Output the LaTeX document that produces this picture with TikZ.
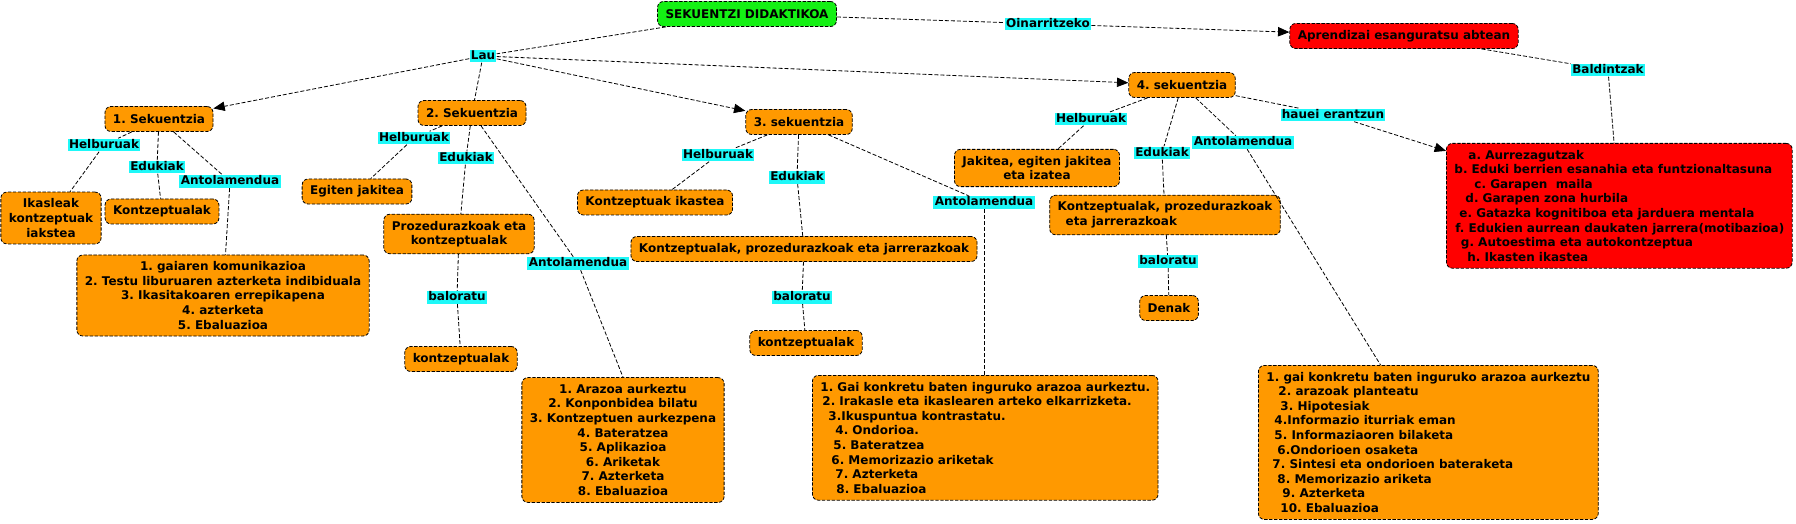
\documentclass[tikz,border=0pt]{standalone}
\usepackage{fontspec}
\setmainfont{DejaVu Sans}
\usetikzlibrary{arrows.meta}
\definecolor{orangeC}{RGB}{255,153,0}
\definecolor{cyanC}{RGB}{30,248,248}
\definecolor{greenC}{RGB}{20,240,20}
\definecolor{redC}{RGB}{255,0,0}
\newcommand\myfont{\bfseries\frenchspacing\fontsize{9pt}{10.95pt}\selectfont}
\newcommand\ind[1]{\hspace*{\dimexpr #1pt*3/4\relax}}
\tikzset{
  base/.style={font=\myfont, text=black},
  concept/.style={base, draw=black, dash pattern=on 2.5pt off 1.2pt, line width=0.6pt,
    rounded corners=4.5pt, fill=orangeC, inner xsep=6pt, inner ysep=5pt, align=center},
  single/.style={minimum height=18.75pt},
  lab/.style={base, fill=cyanC, inner xsep=1pt, inner ysep=0.6pt, text height=6.6pt, text depth=1.9pt},
  link/.style={draw=black, dash pattern=on 3pt off 1.5pt, line width=0.6pt},
  arr/.style={link, -{Triangle[length=8.5pt,width=7pt]}},
}
\begin{document}
\begin{tikzpicture}[x=0.75pt,y=-0.75pt]
\path[use as bounding box, fill=white] (0,0) rectangle (1796,524);

% top
\node[concept,single,fill=greenC] (sekdid) at (747,14) {SEKUENTZI DIDAKTIKOA};
\node[lab] (oin) at (1048,24) {Oinarritzeko};
\node[concept,single,fill=redC] (apr) at (1404,36) {Aprendizai esanguratsu abtean};
\node[lab] (lau) at (483,56) {Lau};
\node[lab] (bald) at (1608,70) {Baldintzak};
\node[concept,fill=redC,align=left,anchor=north west] (red) at (1446,143) {%
\ind{14}a. Aurrezagutzak\\
b. Eduki berrien esanahia eta funtzionaltasuna\\
\ind{20}c. Garapen\ \ maila\\
\ind{11}d. Garapen zona hurbila\\
\ind{5}e. Gatazka kognitiboa eta jarduera mentala\\
\ind{1}f. Edukien aurrean daukaten jarrera(motibazioa)\\
\ind{6.5}g. Autoestima eta autokontzeptua\\
\ind{13}h. Ikasten ikastea};

% sequences
\node[concept,single] (sek1) at (159,119) {1. Sekuentzia};
\node[concept,single] (sek2) at (472,113) {2. Sekuentzia};
\node[concept,single] (sek3) at (799,122) {3. sekuentzia};
\node[concept,single] (sek4) at (1182,85) {4. sekuentzia};
\node[lab] (hauei) at (1333,115) {hauei erantzun};

% sequence 1
\node[lab] (helb1) at (104,145) {Helburuak};
\node[lab] (eduk1) at (157,167) {Edukiak};
\node[lab] (antol1) at (230,181.5) {Antolamendua};
\node[concept] (ikas) at (51,218) {Ikasleak\\kontzeptuak\\iakstea};
\node[concept,single] (kontz1) at (162,211.5) {Kontzeptualak};
\node[concept] (list1) at (223,295.5) {1. gaiaren komunikazioa\\2. Testu liburuaren azterketa indibiduala\\3. Ikasitakoaren errepikapena\\4. azterketa\\5. Ebaluazioa};

% sequence 2
\node[lab] (helb2) at (414,138) {Helburuak};
\node[lab] (eduk2) at (466,158) {Edukiak};
\node[concept,single] (egiten) at (357,191.5) {Egiten jakitea};
\node[concept] (proz) at (459,234) {Prozedurazkoak eta\\kontzeptualak};
\node[lab] (balor2) at (457,297.5) {baloratu};
\node[concept,single] (kontz2) at (461,359) {kontzeptualak};
\node[lab] (antol2) at (578,263.5) {Antolamendua};
\node[concept] (list2) at (623,440) {1. Arazoa aurkeztu\\2. Konponbidea bilatu\\3. Kontzeptuen aurkezpena\\4. Bateratzea\\5. Aplikazioa\\6. Ariketak\\7. Azterketa\\8. Ebaluazioa};

% sequence 3
\node[lab] (helb3) at (718,155) {Helburuak};
\node[lab] (eduk3) at (797,177.5) {Edukiak};
\node[lab] (antol3) at (984,202.5) {Antolamendua};
\node[concept,single] (kikas) at (655,202.5) {Kontzeptuak ikastea};
\node[concept,single] (kpj3) at (804,249) {Kontzeptualak, prozedurazkoak eta jarrerazkoak};
\node[lab] (balor3) at (802,297.5) {baloratu};
\node[concept,single] (kontz3) at (806,343) {kontzeptualak};
\node[concept,align=left,anchor=north west] (list3) at (812,375) {%
1. Gai konkretu baten inguruko arazoa aurkeztu.\\
\ind{2}2. Irakasle eta ikaslearen arteko elkarrizketa.\\
\ind{8}3.Ikuspuntua kontrastatu.\\
\ind{15}4. Ondorioa.\\
\ind{13}5. Bateratzea\\
\ind{11}6. Memorizazio ariketak\\
\ind{15}7. Azterketa\\
\ind{16}8. Ebaluazioa};

% sequence 4
\node[lab] (helb4) at (1091,119) {Helburuak};
\node[lab] (eduk4) at (1162,153) {Edukiak};
\node[lab] (antol4) at (1243,142.5) {Antolamendua};
\node[concept] (jak) at (1037,168) {Jakitea, egiten jakitea\\eta izatea};
\node[concept,align=left] (kpj4) at (1165,215) {Kontzeptualak, prozedurazkoak\\\ind{8}eta jarrerazkoak};
\node[lab] (balor4) at (1168,261.5) {baloratu};
\node[concept,single] (denak) at (1169,308) {Denak};
\node[concept,align=left,anchor=north west] (list4) at (1258,365) {%
1. gai konkretu baten inguruko arazoa aurkeztu\\
\ind{12}2. arazoak planteatu\\
\ind{14}3. Hipotesiak\\
\ind{8}4.Informazio iturriak eman\\
\ind{8}5. Informaziaoren bilaketa\\
\ind{11}6.Ondorioen osaketa\\
\ind{6}7. Sintesi eta ondorioen bateraketa\\
\ind{11}8. Memorizazio ariketa\\
\ind{16}9. Azterketa\\
\ind{14}10. Ebaluazioa};

% connectors
\draw[link] (sekdid) -- (lau);
\draw[link] (sekdid) -- (oin);
\draw[arr] (oin) -- (apr);
\draw[link] (apr) -- (bald);
\draw[link] (bald) -- (red);
\draw[arr] (lau) -- (sek1);
\draw[link] (lau) -- (sek2);
\draw[arr] (lau) -- (sek3);
\draw[arr] (lau) -- (sek4);

\draw[link] (sek1) -- (helb1);
\draw[link] (helb1) -- (ikas);
\draw[link] (sek1) -- (eduk1);
\draw[link] (eduk1) -- (kontz1);
\draw[link] (sek1) -- (antol1);
\draw[link] (antol1) -- (list1);

\draw[link] (sek2) -- (helb2);
\draw[link] (helb2) -- (egiten);
\draw[link] (sek2) -- (eduk2);
\draw[link] (eduk2) -- (proz);
\draw[link] (proz) -- (balor2);
\draw[link] (balor2) -- (kontz2);
\draw[link] (sek2) -- (antol2);
\draw[link] (antol2) -- (list2.north);

\draw[link] (sek3) -- (helb3);
\draw[link] (helb3) -- (kikas);
\draw[link] (sek3) -- (eduk3);
\draw[link] (eduk3) -- (kpj3);
\draw[link] (kpj3) -- (balor3);
\draw[link] (balor3) -- (kontz3);
\draw[link] (sek3) -- (antol3);
\draw[link] (antol3) -- (antol3 |- list3.north);

\draw[link] (sek4) -- (helb4);
\draw[link] (helb4) -- (jak);
\draw[link] (sek4) -- (eduk4);
\draw[link] (eduk4) -- (kpj4);
\draw[link] (kpj4) -- (balor4);
\draw[link] (balor4) -- (denak);
\draw[link] (sek4) -- (antol4);
\draw[link] (antol4) -- (list4);
\draw[link] (sek4) -- (hauei);
\draw[arr] (hauei) -- (red);
\end{tikzpicture}
\end{document}
